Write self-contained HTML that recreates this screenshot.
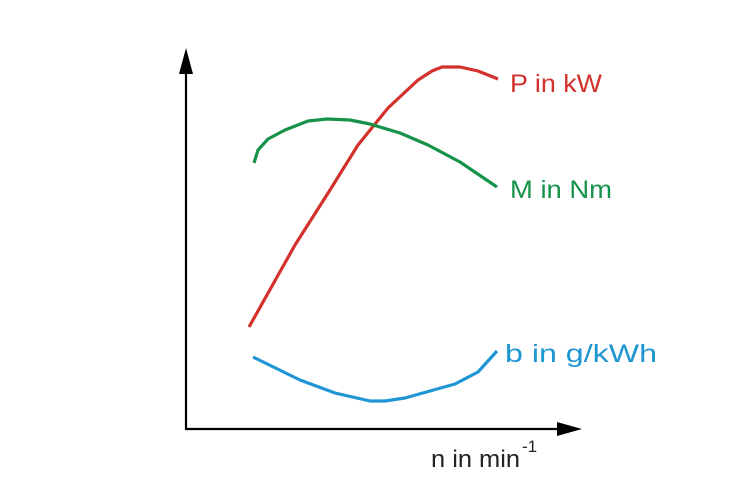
<!DOCTYPE html>
<html><head><meta charset="utf-8"><style>
html,body{margin:0;padding:0;background:#fff;}
svg{display:block;}
text{font-family:"Liberation Sans",sans-serif;}
</style></head><body>
<svg width="755" height="488" viewBox="0 0 755 488" xmlns="http://www.w3.org/2000/svg">
<line x1="186" y1="430" x2="186" y2="70" stroke="#000" stroke-width="2.2"/>
<polygon points="186,48 179,74 193,74" fill="#000"/>
<line x1="185" y1="429" x2="560" y2="429" stroke="#000" stroke-width="2.2"/>
<polygon points="582,429 557,422 557,436" fill="#000"/>
<polyline fill="none" stroke="#d2312c" stroke-width="3.2" stroke-linejoin="round" points="249,327 272,286 295,245 330,190 358,145 388,108 418,80 432,71 442,67 460,67 478,71 498,79"/>
<polyline fill="none" stroke="#16924a" stroke-width="3.2" stroke-linejoin="round" points="254,163 258,150 268,139 285,130 308,121 327,119 350,120 370,124 400,133 428,145 460,162 497,187"/>
<polyline fill="none" stroke="#1f96d3" stroke-width="3.2" stroke-linejoin="round" points="253,357 300,380 335,393 370,401 385,401 405,398 430,391 455,384 478,372 497,351"/>
<text x="510" y="92" font-size="25" fill="#d2312c" textLength="92" lengthAdjust="spacingAndGlyphs">P in kW</text>
<text x="510" y="198" font-size="25" fill="#16924a" textLength="102" lengthAdjust="spacingAndGlyphs">M in Nm</text>
<text x="505" y="362" font-size="25" fill="#1f96d3" textLength="152" lengthAdjust="spacingAndGlyphs">b in g/kWh</text>
<text x="431" y="467" font-size="24" fill="#222" textLength="89" lengthAdjust="spacingAndGlyphs">n in min</text>
<text x="522" y="452" font-size="17" fill="#222">-1</text>
</svg>
</body></html>
